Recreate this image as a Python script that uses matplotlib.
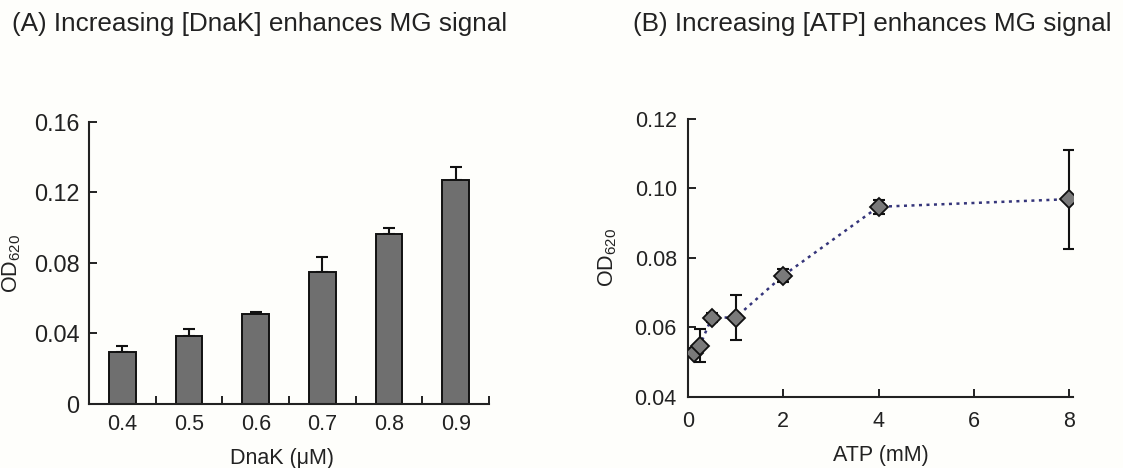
import matplotlib
matplotlib.use('Agg')
import matplotlib.pyplot as plt
import numpy as np

plt.rcParams['font.family'] = ['Liberation Sans', 'DejaVu Sans']
plt.rcParams['mathtext.fontset'] = 'custom'
plt.rcParams['mathtext.rm'] = 'Liberation Sans'
plt.rcParams['mathtext.it'] = 'Liberation Sans'

# Panel A: DnaK titration (bars, upper error only)
dnak_conc = ['0.4', '0.5', '0.6', '0.7', '0.8', '0.9']
dnak_od = [0.0295, 0.0386, 0.0509, 0.0751, 0.0963, 0.1270]
dnak_err = [0.0035, 0.0041, 0.0013, 0.0085, 0.0034, 0.0075]

# Panel B: ATP titration
atp_mm = [0.125, 0.25, 0.5, 1, 2, 4, 8]
atp_od = [0.0527, 0.0547, 0.0628, 0.0628, 0.0749, 0.0947, 0.0969]
atp_err = [0.0012, 0.0047, 0.0014, 0.0066, 0.0020, 0.0021, 0.0143]

bg = '#fefefb'
ink = '#222222'
fs = 15.5

fig = plt.figure(figsize=(11.23, 4.68), dpi=100, facecolor=bg)

# ---- (A) ----
axA = fig.add_axes([0.0793, 0.1368, 0.3562, 0.6026], facecolor=bg)
x = np.arange(len(dnak_conc))
axA.bar(x, dnak_od, width=0.4, color='#6f6f6f', edgecolor='#111111', linewidth=1.4, zorder=2)
axA.errorbar(x, dnak_od, yerr=[np.zeros(len(dnak_err)), dnak_err], fmt='none',
             ecolor='#111111', elinewidth=1.5, capsize=4.5, capthick=1.5, zorder=1)
axA.set_xlim(-0.5, 5.5)
axA.set_ylim(0, 0.16)
axA.set_yticks([0, 0.04, 0.08, 0.12, 0.16])
axA.set_yticklabels(['0', '0.04', '0.08', '0.12', '0.16'])
axA.set_xticks(x)
axA.set_xticklabels(dnak_conc)
axA.set_xticks(np.arange(0.5, 6, 1), minor=True)
axA.tick_params(axis='x', which='major', length=0, pad=7, labelsize=fs, colors=ink)
axA.tick_params(axis='x', which='minor', direction='in', length=6, width=1.4, color=ink)
axA.tick_params(axis='y', direction='in', length=6, width=1.4, pad=7, labelsize=16.8, colors=ink)
axA.set_xlabel('DnaK (\u03bcM)', fontsize=fs, color=ink, labelpad=11)
axA.xaxis.set_label_coords(0.4825, -0.155)
axA.set_ylabel(r'$\mathregular{OD_{620}}$', fontsize=fs, color=ink, labelpad=8)

# ---- (B) ----
axB = fig.add_axes([0.6126, 0.1524, 0.3428, 0.5934], facecolor=bg)
axB.plot(atp_mm, atp_od, linestyle=(0, (1.2, 1.8)), color='#35357a', linewidth=1.8, zorder=1)
axB.errorbar(atp_mm, atp_od, yerr=atp_err, fmt='none', ecolor='#111111',
             elinewidth=1.5, capsize=4.5, capthick=1.5, zorder=2)
axB.plot(atp_mm, atp_od, linestyle='none', marker='D', markersize=9.5,
         markerfacecolor='#7a7a7a', markeredgecolor='#111111', markeredgewidth=1.3, zorder=3)
axB.set_xlim(0, 8.08)
axB.set_ylim(0.04, 0.12)
axB.set_xticks([0, 2, 4, 6, 8])
axB.set_yticks([0.04, 0.06, 0.08, 0.10, 0.12])
axB.set_yticklabels(['0.04', '0.06', '0.08', '0.10', '0.12'])
axB.tick_params(axis='x', direction='in', length=6, width=1.4, pad=10, labelsize=fs, colors=ink)
axB.tick_params(axis='y', direction='in', length=6, width=1.4, pad=8, labelsize=fs, colors=ink)
axB.set_xlabel('ATP (mM)', fontsize=fs, color=ink, labelpad=10)
axB.set_ylabel(r'$\mathregular{OD_{620}}$', fontsize=fs, color=ink, labelpad=11)

for ax in (axA, axB):
    for side in ('top', 'right'):
        ax.spines[side].set_visible(False)
    for side in ('left', 'bottom'):
        ax.spines[side].set_linewidth(1.5)
        ax.spines[side].set_color(ink)

fig.text(12 / 1123, 1 - 24 / 468, '(A) Increasing [DnaK] enhances MG signal',
         fontsize=18.8, color=ink, ha='left', va='center')
fig.text(633 / 1123, 1 - 24 / 468, '(B) Increasing [ATP] enhances MG signal',
         fontsize=18.8, color=ink, ha='left', va='center')

fig.savefig('out.png', dpi=100, facecolor=bg)
